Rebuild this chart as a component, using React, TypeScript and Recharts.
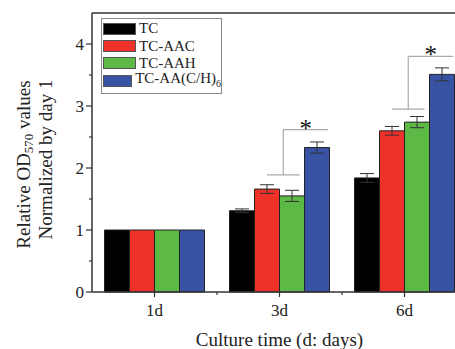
import React from 'react';
import { BarChart, Bar, XAxis, YAxis, ErrorBar, ReferenceLine, Rectangle } from 'recharts';

const categories = ['1d', '3d', '6d'];
const seriesNames = ['TC', 'TC-AAC', 'TC-AAH', 'TC-AA(C/H)'];
const seriesSubs = ['', '', '', '6'];
const colors = ['#000000', '#ee3129', '#5cb946', '#3953a4'];
const tcValues = [1, 1.31, 1.84];
const aacValues = [1, 1.66, 2.6];
const aahValues = [1, 1.55, 2.74];
const aachValues = [1, 2.33, 3.51];
const tcErr = [0, 0.03, 0.07];
const aacErr = [0, 0.07, 0.07];
const aahErr = [0, 0.09, 0.09];
const aachErr = [0, 0.09, 0.105];
const bracketLow = [null, 1.89, 2.95];
const bracketHigh = [null, 2.62, 3.8];
const starLevel = [null, 2.77, 3.97];
const yTicks = [0, 0.5, 1, 1.5, 2, 2.5, 3, 3.5, 4];

const keys = ['tc', 'aac', 'aah', 'aach'];

const data = categories.map((c, i) => ({
  cat: c,
  tc: tcValues[i],
  aac: aacValues[i],
  aah: aahValues[i],
  aach: aachValues[i],
  tcErr: tcErr[i],
  aacErr: aacErr[i],
  aahErr: aahErr[i],
  aachErr: aachErr[i],
  low: bracketLow[i],
  high: bracketHigh[i],
  star: starLevel[i],
}));

const FONT = "'Liberation Serif', 'Times New Roman', serif";
const AXIS = '#333333';
const CHART_W = 480;
const PLOT_LEFT = 92;
const PLOT_RIGHT_MARGIN = 13;
const BAND = (CHART_W - PLOT_LEFT - PLOT_RIGHT_MARGIN) / categories.length;

const BracketBar = (props: any) => {
  const { x, y, width, height, payload, fill } = props;
  const val = payload.aach;
  const base = y + height;
  const ppu = height / val;
  const toY = (v: number) => base - v * ppu;
  let extra = null;
  if (payload.low != null && payload.high != null) {
    const yl = toY(payload.low);
    const yh = toY(payload.high);
    const ys = toY(payload.star);
    const vx = x - 0.85 * width;
    extra = (
      <g stroke="#aaaaaa" strokeWidth={1.2} fill="none">
        <line x1={x - 1.5 * width} x2={x - 0.2 * width} y1={yl} y2={yl} />
        <line x1={vx} x2={vx} y1={yl} y2={yh} />
        <line x1={vx} x2={x + 0.95 * width} y1={yh} y2={yh} />
        <text x={x + 0.05 * width} y={ys} dy="0.68em" textAnchor="middle" fontFamily={FONT} fontSize={25} fill="#111" stroke="none">*</text>
      </g>
    );
  }
  return (
    <g>
      <Rectangle x={x} y={y} width={width} height={height} fill={fill} stroke="#222" strokeWidth={1} />
      {extra}
    </g>
  );
};

const YTick = (props: any) => {
  const { x, y, payload } = props;
  const axisX = x + 8;
  const major = Number.isInteger(payload.value);
  return (
    <g>
      <line x1={axisX - (major ? 6 : 3)} x2={axisX} y1={y} y2={y} stroke={AXIS} strokeWidth={1.2} />
      {major && (
        <text x={x} y={y} dy="0.36em" textAnchor="end" fontFamily={FONT} fontSize={17} fill="#222">
          {payload.value}
        </text>
      )}
    </g>
  );
};

const XTick = (props: any) => {
  const { x, y, payload, index } = props;
  const axisY = y - 12;
  return (
    <g>
      <line x1={x} x2={x} y1={axisY} y2={axisY + 5} stroke={AXIS} strokeWidth={1.2} />
      {index < categories.length - 1 && (
        <line x1={x + BAND / 2} x2={x + BAND / 2} y1={axisY} y2={axisY + 3} stroke={AXIS} strokeWidth={1.2} />
      )}
      <text x={x} y={y} dy="0.71em" textAnchor="middle" fontFamily={FONT} fontSize={17} fill="#222">
        {payload.value}
      </text>
    </g>
  );
};

const YLabel = (props: any) => {
  const vb = props.viewBox || { x: 0, y: 13, width: 92, height: 279 };
  const cy = vb.y + vb.height / 2 + 12;
  const x1 = 30;
  const x2 = 52;
  return (
    <g fontFamily={FONT} fontSize={19} fill="#222">
      <text x={x1} y={cy} transform={`rotate(-90 ${x1} ${cy})`} textAnchor="middle">
        Relative OD<tspan fontSize={13} dy={3}>570</tspan>
        <tspan dy={-3}> values</tspan>
      </text>
      <text x={x2} y={cy - 5} transform={`rotate(-90 ${x2} ${cy - 5})`} textAnchor="middle">
        Normalized by day 1
      </text>
    </g>
  );
};

export default function App() {
  return (
    <div style={{ position: 'fixed', left: 0, top: 0, width: 455, height: 349, overflow: 'hidden', background: '#fff' }}>
      <BarChart
        width={CHART_W}
        height={349}
        data={data}
        margin={{ top: 13, right: PLOT_RIGHT_MARGIN, left: 0, bottom: 0 }}
        barCategoryGap="10%"
        barGap={0}
      >
        <XAxis
          dataKey="cat"
          height={57}
          tickSize={5}
          tickMargin={7}
          tickLine={false}
          axisLine={{ stroke: AXIS, strokeWidth: 1.5 }}
          tick={<XTick />}
          label={{ value: 'Culture time (d: days)', position: 'insideBottom', offset: 3, fontFamily: FONT, fontSize: 19, fill: '#222' }}
        />
        <YAxis
          width={PLOT_LEFT}
          domain={[0, 4.5]}
          ticks={yTicks}
          interval={0}
          tickSize={6}
          tickMargin={2}
          tickLine={false}
          axisLine={{ stroke: AXIS, strokeWidth: 1.5 }}
          tick={<YTick />}
          label={<YLabel />}
        />
        <ReferenceLine y={4.5} stroke={AXIS} strokeWidth={1.5} />
        {keys.map((k, i) => (
          <Bar
            key={k}
            dataKey={k}
            fill={colors[i]}
            stroke="#222"
            strokeWidth={1}
            isAnimationActive={false}
            shape={i === 3 ? <BracketBar /> : undefined}
          >
            <ErrorBar dataKey={`${k}Err`} width={7} stroke="#333" strokeWidth={1} />
          </Bar>
        ))}
      </BarChart>
      <div
        style={{
          position: 'absolute',
          left: 101,
          top: 18,
          width: 119,
          height: 73,
          border: '1px solid #888',
          background: '#fff',
          paddingTop: 1,
          boxSizing: 'content-box',
          fontFamily: FONT,
          fontSize: 15,
          color: '#222',
        }}
      >
        {seriesNames.map((n, i) => (
          <div key={n} style={{ display: 'flex', alignItems: 'center', height: 17.4 }}>
            <div style={{ width: 31, height: 10, marginLeft: 1, background: colors[i], border: '1px solid #555' }} />
            <span style={{ marginLeft: 3, whiteSpace: 'nowrap', lineHeight: '15px' }}>
              {n}
              {seriesSubs[i] && <sub style={{ fontSize: 10 }}>{seriesSubs[i]}</sub>}
            </span>
          </div>
        ))}
      </div>
    </div>
  );
}
